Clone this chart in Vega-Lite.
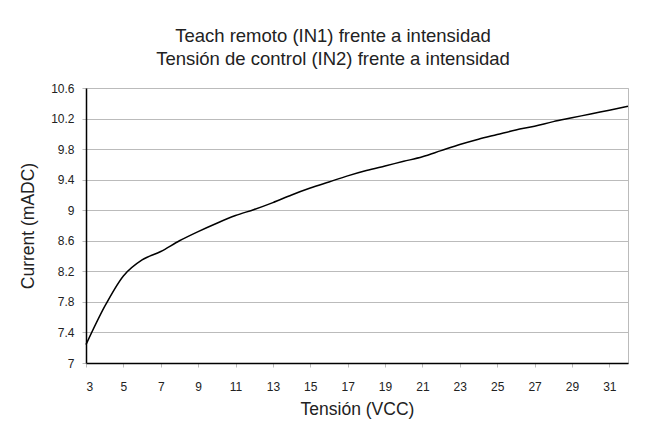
{
  "$schema": "https://vega.github.io/schema/vega-lite/v6.json",
  "autosize": {"type": "none"},
  "padding": {"left": 86, "top": 88, "right": 20, "bottom": 79},
  "width": 542,
  "height": 275,
  "background": "white",
  "title": {
    "text": ["Teach remoto (IN1) frente a intensidad", "Tensión de control (IN2) frente a intensidad"],
    "anchor": "middle",
    "font": "Liberation Sans",
    "fontSize": 18.5,
    "fontWeight": "normal",
    "color": "#222222",
    "lineHeight": 23,
    "offset": 14,
    "dx": -24
  },
  "data": {
    "values": [
      {"v": 3, "i": 7.24}, {"v": 4, "i": 7.74}, {"v": 5, "i": 8.14}, {"v": 6, "i": 8.35},
      {"v": 7, "i": 8.46}, {"v": 8, "i": 8.60}, {"v": 9, "i": 8.72}, {"v": 10, "i": 8.83},
      {"v": 11, "i": 8.93}, {"v": 12, "i": 9.01}, {"v": 13, "i": 9.10}, {"v": 14, "i": 9.20},
      {"v": 15, "i": 9.29}, {"v": 16, "i": 9.37}, {"v": 17, "i": 9.45}, {"v": 18, "i": 9.52},
      {"v": 19, "i": 9.58}, {"v": 20, "i": 9.64}, {"v": 21, "i": 9.70}, {"v": 22, "i": 9.78},
      {"v": 23, "i": 9.86}, {"v": 24, "i": 9.93}, {"v": 25, "i": 9.99}, {"v": 26, "i": 10.05},
      {"v": 27, "i": 10.10}, {"v": 28, "i": 10.16}, {"v": 29, "i": 10.21}, {"v": 30, "i": 10.26},
      {"v": 31, "i": 10.31}, {"v": 32, "i": 10.36}
    ]
  },
  "mark": {"type": "line", "color": "#000000", "strokeWidth": 1.5, "interpolate": "monotone"},
  "encoding": {
    "x": {
      "field": "v",
      "type": "quantitative",
      "scale": {"domain": [3, 32], "nice": false, "zero": false},
      "axis": {
        "title": "Tensión (VCC)",
        "values": [3, 5, 7, 9, 11, 13, 15, 17, 19, 21, 23, 25, 27, 29, 31],
        "format": "d",
        "grid": false,
        "domainColor": "#000000",
        "domainWidth": 1.5,
        "tickColor": "#bbbbbb",
        "tickSize": 4,
        "labelPadding": 14,
        "labelFontSize": 12,
        "labelFont": "Liberation Sans",
        "labelColor": "#222222",
        "titleFont": "Liberation Sans",
        "titleFontSize": 17.5,
        "titleFontWeight": "normal",
        "titleColor": "#222222",
        "titlePadding": 8
      }
    },
    "y": {
      "field": "i",
      "type": "quantitative",
      "scale": {"domain": [7, 10.6], "nice": false, "zero": false},
      "axis": {
        "title": "Current (mADC)",
        "values": [7, 7.4, 7.8, 8.2, 8.6, 9, 9.4, 9.8, 10.2, 10.6],
        "format": "~g",
        "grid": true,
        "gridColor": "#bbbbbb",
        "gridWidth": 1,
        "domainColor": "#000000",
        "domainWidth": 1.5,
        "tickColor": "#bbbbbb",
        "tickSize": 4,
        "labelPadding": 8,
        "labelFontSize": 12,
        "labelFont": "Liberation Sans",
        "labelColor": "#222222",
        "titleFont": "Liberation Sans",
        "titleFontSize": 17.5,
        "titleFontWeight": "normal",
        "titleColor": "#222222",
        "titlePadding": 13
      }
    }
  },
  "config": {
    "view": {"stroke": "#bbbbbb", "strokeWidth": 1}
  }
}
